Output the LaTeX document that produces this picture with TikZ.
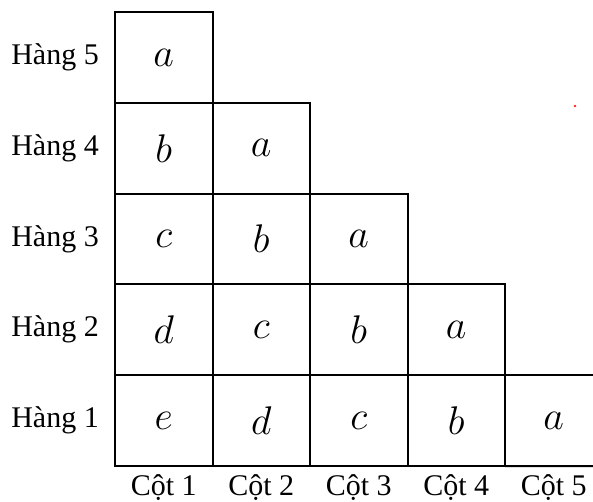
\documentclass[tikz,border=0pt]{standalone}
\usepackage{fix-cm}
\usepackage{fontspec}
\setmainfont{Liberation Serif}
\begin{document}
\begin{tikzpicture}[x=1pt,y=-1pt,
  cell/.style={draw, line width=2pt, outer sep=0pt, minimum width=97.5pt, minimum height=90.8pt, inner sep=0pt, anchor=north west,
    font=\fontsize{40}{42}\selectfont},
  edge/.style={line width=2pt},
  rowlab/.style={anchor=east, inner sep=0pt, font=\fontsize{30}{32}\selectfont},
  collab/.style={anchor=base, inner sep=0pt, font=\fontsize{30}{32}\selectfont}]
\useasboundingbox (0,0) rectangle (593,502);
% Row 5
\node[cell] (r5c1) at (115,12) {$a$};
% Row 4
\node[cell] (r4c1) at (115,102.8) {$b$};
\node[cell] (r4c2) at (212.5,102.8) {$a$};
% Row 3
\node[cell] (r3c1) at (115,193.6) {$c$};
\node[cell] (r3c2) at (212.5,193.6) {$b$};
\node[cell] (r3c3) at (310,193.6) {$a$};
% Row 2
\node[cell] (r2c1) at (115,284.4) {$d$};
\node[cell] (r2c2) at (212.5,284.4) {$c$};
\node[cell] (r2c3) at (310,284.4) {$b$};
\node[cell] (r2c4) at (407.5,284.4) {$a$};
% Row 1
\node[cell] (r1c1) at (115,375.2) {$e$};
\node[cell] (r1c2) at (212.5,375.2) {$d$};
\node[cell] (r1c3) at (310,375.2) {$c$};
\node[cell] (r1c4) at (407.5,375.2) {$b$};
\node[cell, draw=none] (r1c5) at (505,375.2) {$a$};
\coordinate (e1) at (593,375.2);
\coordinate (e2) at (593,466);
\draw[edge] (r1c5.north west) -- (e1);
\draw[edge] (r1c5.south west) -- (e2);
% row labels
\node[rowlab] (h5) at ([xshift=-16pt]r5c1.west) {Hàng 5};
\node[rowlab] (h4) at ([xshift=-16pt]r4c1.west) {Hàng 4};
\node[rowlab] (h3) at ([xshift=-16pt]r3c1.west) {Hàng 3};
\node[rowlab] (h2) at ([xshift=-16pt]r2c1.west) {Hàng 2};
\node[rowlab] (h1) at ([xshift=-16pt]r1c1.west) {Hàng 1};
% column labels
\node[collab] (c1) at ([yshift=-29pt]r1c1.south) {Cột 1};
\node[collab] (c2) at ([yshift=-29pt]r1c2.south) {Cột 2};
\node[collab] (c3) at ([yshift=-29pt]r1c3.south) {Cột 3};
\node[collab] (c4) at ([yshift=-29pt]r1c4.south) {Cột 4};
\node[collab] (c5) at ([yshift=-29pt]r1c5.south) {Cột 5};
% small red dot
\fill[red!85] (575,106) circle (1.3pt);
\end{tikzpicture}
\end{document}
